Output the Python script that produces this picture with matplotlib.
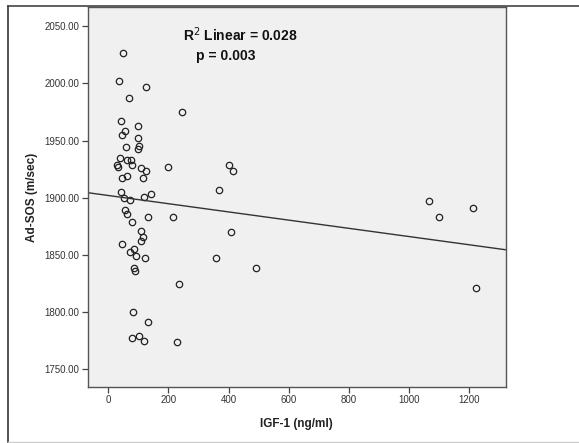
import matplotlib
matplotlib.use("Agg")
import matplotlib.pyplot as plt
from matplotlib.lines import Line2D

# IGF-1 (ng/ml) vs Ad-SOS (m/sec)
igf1 = [49, 36, 125, 68, 246, 43, 100, 55, 45, 99, 60, 103, 99,
        40, 61, 75, 28, 33, 79, 110, 200, 124, 61, 46, 115, 42, 53,
        71, 119, 141, 401, 414, 369,
        55, 63, 132, 215, 80, 110, 114, 110, 45, 85, 71, 92, 121,
        86, 89, 235, 82, 133, 80, 103, 119, 230,
        407, 358, 492, 1068, 1100, 1214, 1223]
ad_sos = [2027, 2002, 1997, 1987, 1975, 1967, 1963, 1958, 1955, 1952, 1944, 1945, 1943,
          1935, 1933, 1933, 1929, 1927, 1929, 1926, 1927, 1923, 1919, 1917, 1917, 1905, 1900,
          1898, 1901, 1903, 1929, 1923, 1907,
          1889, 1886, 1883, 1883, 1879, 1871, 1866, 1862, 1860, 1855, 1853, 1849, 1847,
          1839, 1836, 1825, 1800, 1791, 1777, 1779, 1775, 1774,
          1870, 1847, 1839, 1897, 1883, 1891, 1821]

# fitted line as shown in the figure
fit_intercept = 1902.0
fit_slope = -0.0359

xticks = [0, 200, 400, 600, 800, 1000, 1200]
yticks = [1750, 1800, 1850, 1900, 1950, 2000, 2050]

plt.rcParams['font.family'] = ['Liberation Sans', 'DejaVu Sans']

fig = plt.figure(figsize=(5.79, 4.43), dpi=100)
ax = fig.add_axes([88 / 579, 1 - 387 / 443, (505.7 - 88) / 579, (387 - 7.3) / 443])
ax.set_facecolor('#f0f0f0')

ax.plot(igf1, ad_sos, 'o', ms=4.6, mfc='none', mec='#222222', mew=0.9, ls='none')
ax.axline((0, fit_intercept), slope=fit_slope, color='#333333', lw=1.0)

ax.set_xlim(-67.5, 1322)
ax.set_ylim(1734.5, 2066.6)
ax.set_xticks(xticks)
ax.set_xticklabels([str(t) for t in xticks])
ax.set_yticks(yticks)
ax.set_yticklabels(['%.2f' % t for t in yticks])
ax.tick_params(direction='out', length=4, width=0.9, color='#444444',
               labelsize=7, labelcolor='#333333', pad=2)

for s in ax.spines.values():
    s.set_color('#555555')
    s.set_linewidth(1.0)

ax.set_xlabel('IGF-1 (ng/ml)', fontsize=8.5, fontweight='bold', color='#222222', labelpad=9)
ax.set_ylabel('Ad-SOS (m/sec)', fontsize=8.5, fontweight='bold', color='#222222', labelpad=5)

ax.text(0.228, 0.928, 'R$^2$ Linear = 0.028', transform=ax.transAxes,
        fontsize=10, fontweight='bold', color='#111111', va='center', ha='left')
ax.text(0.258, 0.872, 'p = 0.003', transform=ax.transAxes,
        fontsize=10, fontweight='bold', color='#111111', va='center', ha='left')

# outer frame of the output window
W, H = 579, 443
fig.add_artist(Line2D([8.3 / W, 8.3 / W], [1 - 5.7 / H, 1 - 442 / H], color='#333333', lw=1.2))
fig.add_artist(Line2D([8.3 / W, 1], [1 - 5.7 / H, 1 - 5.7 / H], color='#444444', lw=1.2))
fig.add_artist(Line2D([8.3 / W, 1], [1 - 441.5 / H, 1 - 441.5 / H], color='#cccccc', lw=1.0))

fig.savefig('out.png', dpi=100)
